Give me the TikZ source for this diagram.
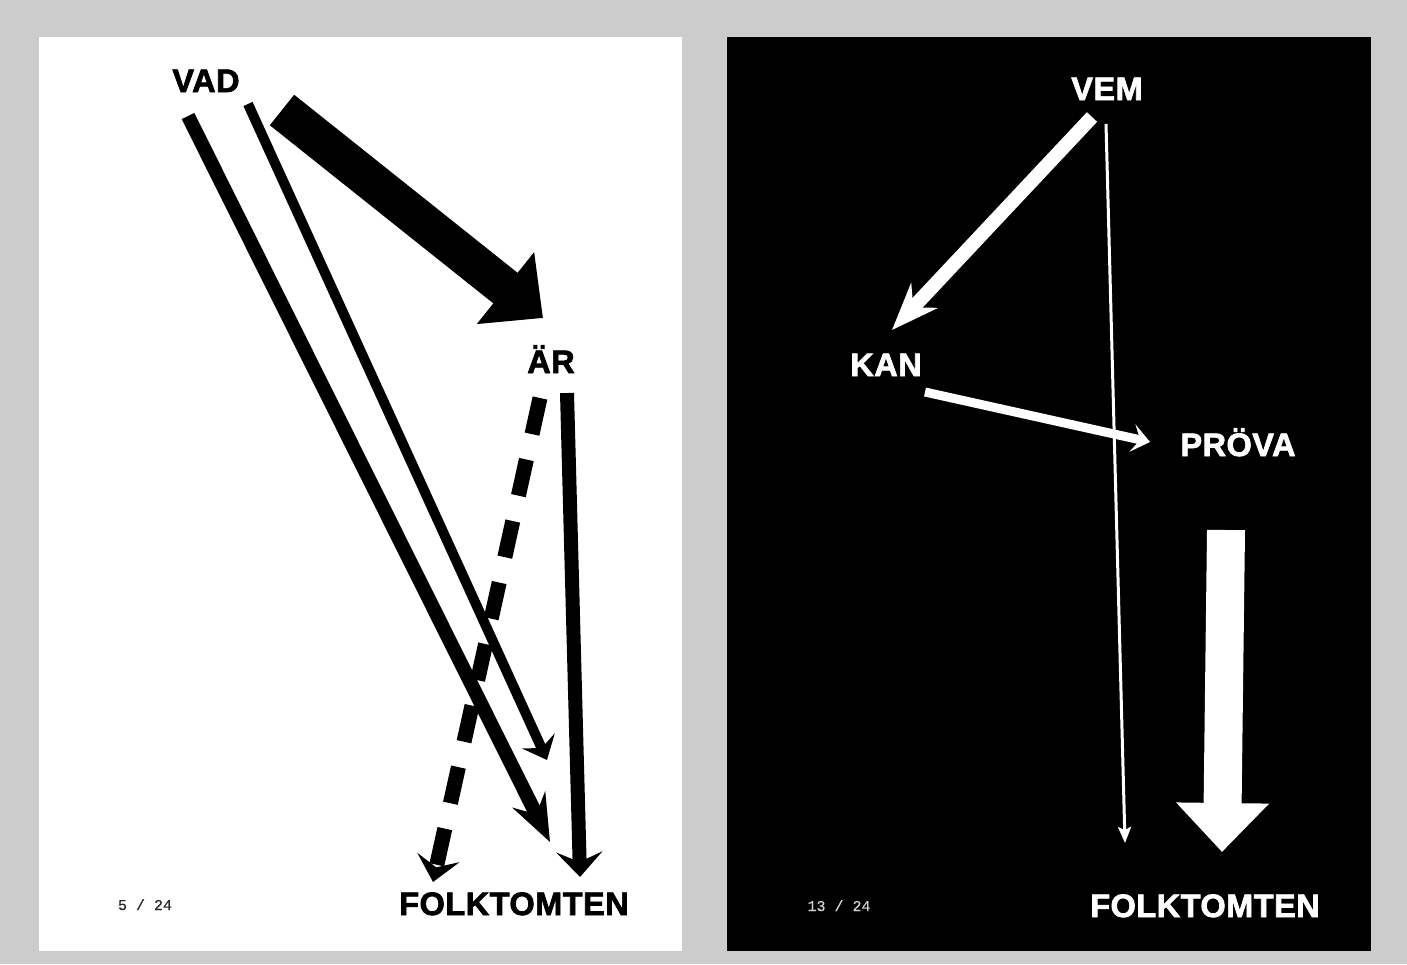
\documentclass[tikz,border=0pt]{standalone}
\usepackage{fontspec}
\setmainfont{Liberation Sans}
\newfontfamily\heavyfont[FakeBold=2.2,LetterSpace=1.5]{Liberation Sans Bold}
\newfontfamily\monof[FakeBold=0.6]{Liberation Mono}
\usetikzlibrary{arrows.meta}
\definecolor{bggray}{RGB}{204,204,204}
\definecolor{pgnum}{RGB}{40,40,40}
\definecolor{pgnumw}{RGB}{210,210,210}
\begin{document}
\begin{tikzpicture}[x=1pt,y=-1pt,
  word/.style={anchor=base,inner sep=0pt,font=\heavyfont\fontsize{32.5}{36}\selectfont},
  pagenum/.style={anchor=base,inner sep=0pt,font=\monof\fontsize{15}{17}\selectfont},
  conn/.style={line cap=butt}]
\useasboundingbox (0,0) rectangle (1407,964);
\fill[bggray] (0,0) rectangle (1407,964);
\fill[white] (39,37) rectangle (682,951);
\fill[black] (727,37) rectangle (1371,951);

% ---------- left panel ----------
\node[word,text=black] (vad) at (206,92) {VAD};
\node[word,text=black] (ar) at (551,373) {ÄR};
\node[word,text=black] (folkL) at (514,915) {FOLKTOMTEN};
\node[pagenum,text=pgnum] (pnL) at (145,910) {5 / 24};

\coordinate (a1s) at (282,110);
\coordinate (a1e) at (543,318);
\coordinate (a2s) at (188,116);
\coordinate (a2e) at (550,842);
\coordinate (a3s) at (248,104);
\coordinate (a3e) at (547,760);
\coordinate (a4s) at (540,398);
\coordinate (a4e) at (433,882);
\coordinate (a5s) at (567,393);
\coordinate (a5e) at (580,877);

\draw[conn,black,line width=39pt,-{Triangle[length=48pt,width=89pt]}] (a1s) -- (a1e);
\draw[conn,black,line width=14pt,-{Stealth[length=47pt,width=36pt,inset=16pt]}] (a2s) -- (a2e);
\draw[conn,black,line width=10pt,-{Stealth[length=21pt,width=36pt,inset=8pt]}] (a3s) -- (a3e);
\draw[conn,black,line width=15pt,dash pattern=on 37pt off 26pt,-{Stealth[length=25pt,width=43pt,inset=10pt]}] (a4s) -- (a4e);
\draw[conn,black,line width=14pt,-{Stealth[length=25pt,width=46pt,inset=10pt]}] (a5s) -- (a5e);

% ---------- right panel ----------
\node[word,text=white] (vem) at (1107,100) {VEM};
\node[word,text=white] (kan) at (886,376) {KAN};
\node[word,text=white] (prova) at (1238,456) {PRÖVA};
\node[word,text=white] (folkR) at (1205,917) {FOLKTOMTEN};
\node[pagenum,text=pgnumw] (pnR) at (839,911) {13 / 24};

\coordinate (b1s) at (1092,117);
\coordinate (b1e) at (892,330);
\coordinate (b2s) at (1106,124);
\coordinate (b2e) at (1125,843);
\coordinate (b3s) at (925,392);
\coordinate (b3e) at (1150,442);
\coordinate (b4s) at (1226,530);
\coordinate (b4e) at (1222,852);

\draw[conn,white,line width=14pt,-{Stealth[length=47pt,width=36pt,inset=16pt]}] (b1s) -- (b1e);
\draw[conn,white,line width=3pt,-{Stealth[length=16pt,width=13pt,inset=3pt]}] (b2s) -- (b2e);
\draw[conn,white,line width=9pt,-{Stealth[length=18pt,width=28pt,inset=8pt]}] (b3s) -- (b3e);
\draw[conn,white,line width=38pt,-{Triangle[length=49pt,width=90pt]}] (b4s) -- (b4e);
\end{tikzpicture}
\end{document}
